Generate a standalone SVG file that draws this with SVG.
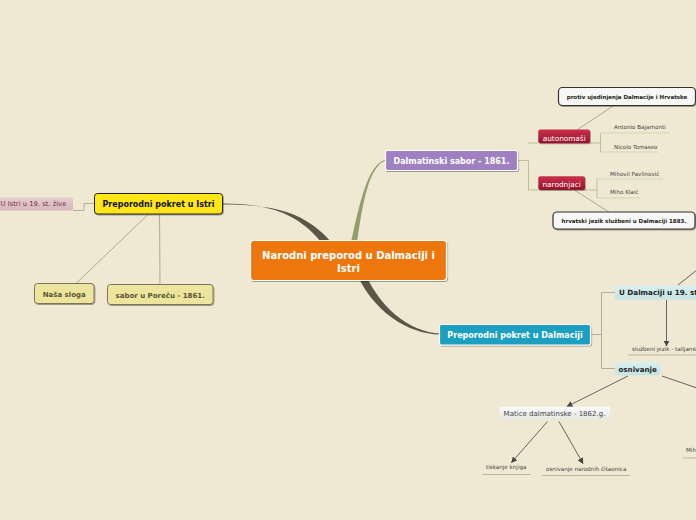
<svg xmlns="http://www.w3.org/2000/svg" width="696" height="520" viewBox="0 0 696 520">
<defs>
<style>
text{font-family:"DejaVu Sans","Verdana",sans-serif}
.b{font-weight:bold}
.c{text-anchor:middle}
.sm{font-size:5.6px;fill:#444}
.ln{fill:none;stroke:#b7ad9d;stroke-width:1}
.lg{fill:none;stroke:#b9c294;stroke-width:1}
.ul{fill:none;stroke:#bdb4a3;stroke-width:1.2}
.ug{fill:none;stroke:#cfd6b4;stroke-width:1.2}
.ar{fill:none;stroke:#555;stroke-width:0.9}
.th{fill:none;stroke:#a09a88;stroke-width:0.8}
</style>
<marker id="ah" markerWidth="6" markerHeight="6" refX="5.5" refY="3" orient="auto" markerUnits="userSpaceOnUse">
<path d="M0,0 L6,3 L0,6 Z" fill="#444"/>
</marker>
<filter id="sh" x="-10%" y="-20%" width="120%" height="150%">
<feDropShadow dx="0.8" dy="1" stdDeviation="0.7" flood-color="#000" flood-opacity="0.35"/>
</filter>
<linearGradient id="red" x1="0" y1="0" x2="0" y2="1">
<stop offset="0" stop-color="#c9304a"/><stop offset="1" stop-color="#96142e"/>
</linearGradient>
<linearGradient id="cy" x1="0" y1="0" x2="0" y2="1">
<stop offset="0" stop-color="#d9efef"/><stop offset="1" stop-color="#c3e3e4"/>
</linearGradient>
<linearGradient id="wh" x1="0" y1="0" x2="0" y2="1">
<stop offset="0" stop-color="#fbfbfa"/><stop offset="1" stop-color="#e6e6e4"/>
</linearGradient>
<linearGradient id="pk" x1="0" y1="0" x2="0" y2="1">
<stop offset="0" stop-color="#e6cfcf"/><stop offset="1" stop-color="#d6b6b8"/>
</linearGradient>
</defs>
<rect width="696" height="520" fill="#efe8d2"/>

<g id="connectors">
<path d="M223,203.5 C268,203.5 300,213 324,246 L331,242 C304,210 268,204.5 223,204.5 Z" fill="#5b5748"/>
<path d="M386,159.5 C368,164 360,200 349,252 L356,252 C362,200 370,165 386,160.5 Z" fill="#919e6c"/>
<path d="M354,268 C372,312 408,334 440,334.5 L440,333.5 C410,332 378,308 362,266 Z" fill="#5b5748"/>
<path class="ln" d="M95,203.5 H84 V210.5 H73"/>
<path class="th" d="M147.5,215 L76,283.5"/>
<path class="th" d="M159.5,215 L160,284.5"/>
<path class="lg" d="M517.5,160.5 H528.5 V190 H538 M528.5,143 H538"/>
<path class="lg" d="M590,143 H600.5 M600.5,133 V152"/>
<path class="ug" d="M600.5,133 H670 M600.5,152 H658"/>
<path class="lg" d="M585,190 H597 M597,179 V198"/>
<path class="ug" d="M597,179 H663 M597,198 H640"/>
<path class="th" d="M577,130 L613,106"/>
<path class="th" d="M575,190.5 L609,212"/>
<path class="ln" d="M590.5,334.5 H601.5 M601.5,292.5 V368.5 M601.5,292.5 H615 M601.5,368.5 H615"/>
<path class="ar" d="M678,285 L697,270"/>
<path class="ar" d="M666.5,300 V346" marker-end="url(#ah)"/>
<path class="ul" d="M628,355 H697"/>
<path class="ar" d="M662,376 L697,388"/>
<path class="ar" d="M628,376 L567,406.5" marker-end="url(#ah)"/>
<path class="ar" d="M547.5,421.5 L511.5,462.5" marker-end="url(#ah)"/>
<path class="ar" d="M559,421.5 L583,463.5" marker-end="url(#ah)"/>
<path class="ul" d="M482,474.5 H531 M542,475.5 H630 M683,458 H697"/>
</g>

<g id="central">
<rect x="250.5" y="240.5" width="196" height="40" rx="3" fill="#ee7711" stroke="#fff" stroke-width="1.2" filter="url(#sh)"/>
<text class="b c" x="348.5" y="259" font-size="10" fill="#fff">Narodni preporod u Dalmaciji i</text>
<text class="b c" x="348.5" y="271.5" font-size="10" fill="#fff">Istri</text>
</g>

<g id="istra">
<rect x="94.5" y="193.5" width="128" height="20.5" rx="3" fill="#ffe619" stroke="#222" stroke-width="1" filter="url(#sh)"/>
<text class="b c" x="158.5" y="206.8" font-size="8" fill="#111">Preporodni pokret u Istri</text>
</g>

<g id="u-istri">
<rect x="-4" y="197.5" width="77" height="13" rx="2" fill="url(#pk)"/>
<text x="0.5" y="205.8" font-size="6.8" fill="#7a2d44">U Istri u 19. st. žive</text>
</g>

<g id="nasa-sloga">
<rect x="34.5" y="283.5" width="59.5" height="20" rx="3" fill="#ede49e" stroke="#7a7458" stroke-width="1" filter="url(#sh)"/>
<text class="b c" x="64.2" y="296.8" font-size="7" fill="#5a5534">Naša sloga</text>
</g>

<g id="sabor-porec">
<rect x="107.5" y="284.5" width="105.5" height="20" rx="3" fill="#ede49e" stroke="#7a7458" stroke-width="1" filter="url(#sh)"/>
<text class="b c" x="160.2" y="297.5" font-size="7" fill="#5a5534">sabor u Poreču - 1861.</text>
</g>

<g id="dalm-sabor">
<rect x="385.5" y="150.5" width="132" height="20" rx="2" fill="#9f80c0" stroke="#fff" stroke-width="1.2" filter="url(#sh)"/>
<text class="b c" x="451.5" y="163.5" font-size="8" fill="#fff">Dalmatinski sabor - 1861.</text>
</g>

<g id="autonomasi">
<rect x="538.3" y="129.5" width="51.7" height="13.8" rx="2" fill="url(#red)" filter="url(#sh)"/>
<text class="c" x="564.2" y="140.5" font-size="7.3" fill="#fff">autonomaši</text>
</g>

<g id="protiv">
<rect x="558.5" y="87.5" width="137" height="18" rx="4" fill="#f7f7f5" stroke="#333" stroke-width="1.2" filter="url(#sh)"/>
<text class="b c" x="627" y="99" font-size="5.5" fill="#222">protiv ujedinjenja Dalmacije i Hrvatske</text>
</g>

<g id="bajamonti"><text class="sm" x="614" y="129">Antonio Bajamonti</text></g>
<g id="tomaseo"><text class="sm" x="614" y="148.6">Nicolo Tomaseo</text></g>

<g id="narodnjaci">
<rect x="538.3" y="176.3" width="46.7" height="13.7" rx="2" fill="url(#red)" filter="url(#sh)"/>
<text class="c" x="561.6" y="186.6" font-size="7.3" fill="#fff">narodnjaci</text>
</g>

<g id="pavlinovic"><text class="sm" x="610" y="175.6">Mihovil Pavlinović</text></g>
<g id="klaic"><text class="sm" x="610" y="194.3">Miho Klaić</text></g>

<g id="hrvatski">
<rect x="553" y="212" width="142" height="17" rx="4" fill="#f7f7f5" stroke="#333" stroke-width="1.2" filter="url(#sh)"/>
<text class="b c" x="624" y="223.2" font-size="5.5" fill="#222">hrvatski jezik službeni u Dalmaciji 1883.</text>
</g>

<g id="pokret-dalm">
<rect x="439.5" y="324.5" width="151" height="20.5" rx="2" fill="#1a9fc0" stroke="#fff" stroke-width="1.2" filter="url(#sh)"/>
<text class="b c" x="515" y="337.7" font-size="8" fill="#fff">Preporodni pokret u Dalmaciji</text>
</g>

<g id="u-dalmaciji">
<rect x="615" y="285.7" width="90" height="13.8" rx="2" fill="url(#cy)"/>
<text class="b" x="619" y="295.3" font-size="7.2" fill="#222">U Dalmaciji u 19. st</text>
</g>

<g id="sluzbeni"><text class="sm" x="632" y="350.7">službeni jezik - talijanski</text></g>

<g id="osnivanje">
<rect x="615" y="361.7" width="45.5" height="13.5" rx="2" fill="url(#cy)"/>
<text class="b" x="618.5" y="371.7" font-size="7.1" fill="#222">osnivanje</text>
</g>

<g id="matice">
<rect x="499.3" y="406.7" width="110.7" height="13.3" rx="1" fill="url(#wh)"/>
<text class="c" x="554.5" y="416" font-size="7" fill="#444">Matice dalmatinske - 1862.g.</text>
</g>

<g id="tiskanje"><text class="sm" x="486" y="469.3" font-size="5.5">tiskanje knjiga</text></g>
<g id="citaonice"><text class="sm" x="546" y="470.7" font-size="5.5">osnivanje narodnih čitaonica</text></g>
<g id="mih"><text class="sm" x="686" y="452">Mih</text></g>
</svg>
